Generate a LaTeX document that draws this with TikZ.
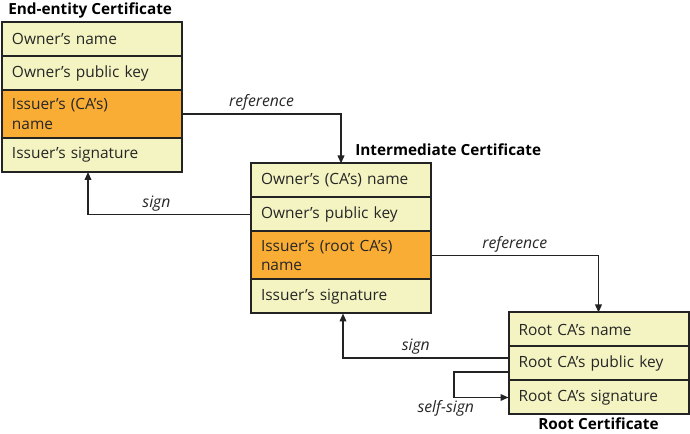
\documentclass[tikz,border=0pt]{standalone}
\usepackage{fontspec}
\setmainfont{Open Sans}
\usetikzlibrary{arrows.meta, positioning}
\definecolor{certyellow}{RGB}{244,244,194}
\definecolor{certorange}{RGB}{249,173,53}
\definecolor{certline}{RGB}{35,35,35}

\begin{document}
\begin{tikzpicture}[
    x=0.75pt, y=-0.75pt,
    node distance=0pt,
    field/.style={rectangle, draw=certline, line width=1.5pt, fill=certyellow, text width=120pt, inner xsep=7.5pt, inner ysep=0pt, outer sep=0pt, minimum height=25.5pt, align=left, font=\fontsize{11.6}{14.3}\selectfont, text=black!85},
    issuer/.style={field, fill=certorange, minimum height=36pt},
    title/.style={font=\fontsize{11.5}{14}\selectfont\bfseries, inner sep=0pt},
    lbl/.style={font=\fontsize{11.8}{13}\selectfont\itshape, inner sep=2pt, text=black!85},
    arrow/.style={-{Triangle[length=6pt,width=5pt]}, line width=1.1pt, draw=certline},
]
\useasboundingbox (0,0) rectangle (690,434);

% End-entity certificate
\node[field] (ee1) at (92,39) {Owner’s name};
\node[field, below=of ee1] (ee2) {Owner’s public key};
\node[issuer, below=of ee2] (ee3) {Issuer’s (CA’s)\\name};
\node[field, below=of ee3] (ee4) {Issuer’s signature};
\node[title, anchor=south west] (eetitle) at ([xshift=4.5pt, yshift=2.5pt]ee1.north west) {End-entity Certificate};

% Intermediate certificate
\node[field] (int1) at (341,180.5) {Owner’s (CA’s) name};
\node[field, below=of int1] (int2) {Owner’s public key};
\node[issuer, below=of int2] (int3) {Issuer’s (root CA’s)\\name};
\node[field, below=of int3] (int4) {Issuer’s signature};
\node[title, anchor=south west] (inttitle) at ([xshift=10.5pt, yshift=6pt]int1.north) {Intermediate Certificate};

% Root certificate
\node[field] (root1) at (598.5,329.5) {Root CA’s name};
\node[field, below=of root1] (root2) {Root CA’s public key};
\node[field, below=of root2] (root3) {Root CA’s signature};
\node[title, below=2.5pt of root3] (roottitle) {Root Certificate};

% Arrows
\draw[arrow] (ee3.east) -| node[lbl, above, pos=0.25]{reference} (int1.north);
\draw[arrow] (int2.west) -| node[lbl, above, pos=0.29]{sign} ([xshift=-3pt]ee4.south);
\draw[arrow] (int3.east) -| node[lbl, above, pos=0.25]{reference} (root1.north);
\draw[arrow] ([yshift=4pt]root2.west) -| node[lbl, above, pos=0.28]{sign} ([xshift=1.5pt]int4.south);
\draw[arrow] ([yshift=-6.4pt]root2.west) -- ++(-41pt,0) |- node[lbl, below, pos=0.5, xshift=-6pt]{self-sign} (root3.west);

\end{tikzpicture}
\end{document}
